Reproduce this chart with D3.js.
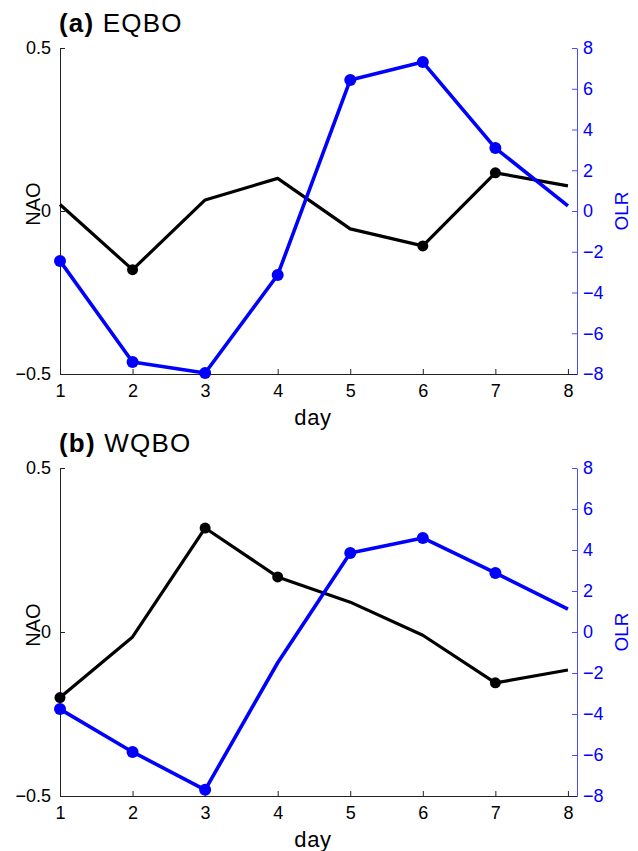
<!DOCTYPE html>
<html>
<head>
<meta charset="utf-8">
<script src="https://cdn.jsdelivr.net/npm/d3@7"></script>
<style>
    body { margin: 0; background: #fff; }
    svg { display: block; font-family: "Liberation Sans", Arial, Helvetica, sans-serif; }
</style>
</head>
<body>
<div id="chart"></div>
<script>
// days on the x axis
const days = [1, 2, 3, 4, 5, 6, 7, 8];

// (a) EQBO
const naoEqbo = [0.02, -0.18, 0.034, 0.10, -0.055, -0.107, 0.117, 0.077];
const olrEqbo = [-2.45, -7.41, -7.95, -3.14, 6.43, 7.31, 3.09, 0.25];
const naoEqboMarked = [2, 6, 7];
const olrEqboMarked = [1, 2, 3, 4, 5, 6, 7];

// (b) WQBO
const naoWqbo = [-0.20, -0.015, 0.317, 0.168, 0.091, -0.01, -0.155, -0.116];
const olrWqbo = [-3.76, -5.85, -7.7, -1.5, 3.85, 4.59, 2.88, 1.12];
const naoWqboMarked = [1, 3, 4, 7];
const olrWqboMarked = [1, 2, 3, 5, 6, 7];

const naoTicks = [-0.5, 0, 0.5];
const olrTicks = [-8, -6, -4, -2, 0, 2, 4, 6, 8];

const WIDTH = 638;
const HEIGHT = 851;
const LEFT = 60;
const RIGHT = 577;
const BLUE = '#0000ff';

const svg = d3.select('#chart')
    .append('svg')
        .attr('width', WIDTH)
        .attr('height', HEIGHT);

const fmt = d => (d < 0 ? '\u2212' : '') + Math.abs(d);

function drawPanel(top, bottom, label, name, nao, olr, naoMarked, olrMarked) {
    const x = d3.scaleLinear()
        .domain([1, 8.125])
        .range([LEFT, RIGHT]);
    const yNao = d3.scaleLinear().domain([-0.5, 0.5]).range([bottom, top]);
    const yOlr = d3.scaleLinear().domain([-8, 8]).range([bottom, top]);
    const mid = (top + bottom) / 2;

    const g = svg.append('g');

    // title
    const title = g.append('text')
        .attr('x', LEFT - 1)
        .attr('y', top - 16)
        .attr('font-size', 26)
        .attr('letter-spacing', 1.2)
        .attr('fill', '#000');
    title.append('tspan').attr('font-weight', 'bold').text(label);
    title.append('tspan').text(' ' + name);

    // bottom axis
    const xAxis = d3.axisBottom(x)
        .tickValues(days)
        .tickSize(-5)
        .tickPadding(10)
        .tickSizeOuter(0);
    g.append('g')
        .attr('transform', 'translate(0,' + bottom + ')')
        .call(xAxis)
        .call(a => a.select('.domain').attr('stroke', '#222'))
        .call(a => a.selectAll('.tick line').attr('stroke', '#222'))
        .call(a => a.selectAll('text').attr('font-size', 18).attr('fill', '#000').attr('font-family', null));

    g.append('text')
        .text('day')
        .attr('x', 313)
        .attr('y', bottom + 51)
        .attr('text-anchor', 'middle')
        .attr('font-size', 22)
        .attr('letter-spacing', 0.6)
        .attr('fill', '#000');

    // left axis
    const leftAxis = d3.axisLeft(yNao)
        .tickValues(naoTicks)
        .tickFormat(fmt)
        .tickSize(-5)
        .tickPadding(9)
        .tickSizeOuter(0);
    g.append('g')
        .attr('transform', 'translate(' + LEFT + ',0)')
        .call(leftAxis)
        .call(a => a.select('.domain').attr('stroke', '#222'))
        .call(a => a.selectAll('.tick line').attr('stroke', '#222'))
        .call(a => a.selectAll('text').attr('font-size', 18).attr('fill', '#000').attr('font-family', null));

    g.append('text')
        .text('NAO')
        .attr('transform', 'translate(40,' + (mid - 7) + ') rotate(-90)')
        .attr('text-anchor', 'middle')
        .attr('font-size', 20)
        .attr('fill', '#000');

    // right axis
    const rightAxis = d3.axisRight(yOlr)
        .tickValues(olrTicks)
        .tickFormat(fmt)
        .tickSize(-5)
        .tickPadding(6)
        .tickSizeOuter(0);
    g.append('g')
        .attr('transform', 'translate(' + RIGHT + ',0)')
        .call(rightAxis)
        .call(a => a.select('.domain').attr('stroke', BLUE).attr('stroke-opacity', 0.7))
        .call(a => a.selectAll('.tick line').attr('stroke', BLUE).attr('stroke-opacity', 0.7))
        .call(a => a.selectAll('text').attr('font-size', 18).attr('fill', BLUE).attr('font-family', null));

    g.append('text')
        .text('OLR')
        .attr('transform', 'translate(628,' + mid + ') rotate(-90)')
        .attr('text-anchor', 'middle')
        .attr('font-size', 19)
        .attr('fill', BLUE);

    // lines
    const naoData = days.map((d, i) => ({ day: d, v: nao[i] }));
    const olrData = days.map((d, i) => ({ day: d, v: olr[i] }));

    g.append('path')
        .datum(naoData)
        .attr('fill', 'none')
        .attr('stroke', '#000')
        .attr('stroke-width', 3.2)
        .attr('stroke-linejoin', 'round')
        .attr('d', d3.line().x(d => x(d.day)).y(d => yNao(d.v)));

    g.append('path')
        .datum(olrData)
        .attr('fill', 'none')
        .attr('stroke', BLUE)
        .attr('stroke-width', 3.6)
        .attr('stroke-linejoin', 'round')
        .attr('d', d3.line().x(d => x(d.day)).y(d => yOlr(d.v)));

    // markers on significant days
    g.selectAll('.naoDot')
        .data(naoData.filter(d => naoMarked.includes(d.day)))
        .enter()
        .append('circle')
            .attr('cx', d => x(d.day))
            .attr('cy', d => yNao(d.v))
            .attr('r', 5.5)
            .attr('fill', '#000');

    g.selectAll('.olrDot')
        .data(olrData.filter(d => olrMarked.includes(d.day)))
        .enter()
        .append('circle')
            .attr('cx', d => x(d.day))
            .attr('cy', d => yOlr(d.v))
            .attr('r', 6)
            .attr('fill', BLUE);
}

drawPanel(48, 374, '(a)', 'EQBO', naoEqbo, olrEqbo, naoEqboMarked, olrEqboMarked);
drawPanel(468, 796, '(b)', 'WQBO', naoWqbo, olrWqbo, naoWqboMarked, olrWqboMarked);
</script>
</body>
</html>
